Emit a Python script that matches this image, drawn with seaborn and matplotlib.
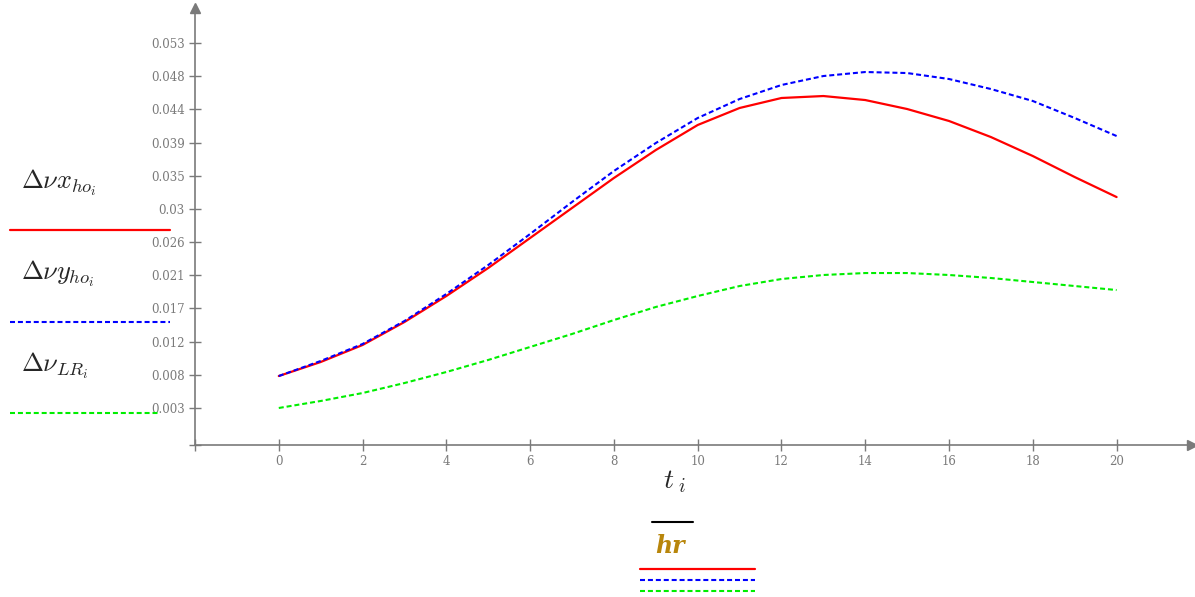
import matplotlib
matplotlib.use("Agg")
import matplotlib.pyplot as plt
import seaborn as sns
from matplotlib.lines import Line2D

# values (t in hr)
t = list(range(21))
dvx_ho = [0.00738, 0.00930, 0.01163, 0.01478, 0.01834, 0.02218, 0.02629, 0.03040,
          0.03451, 0.03834, 0.04177, 0.04410, 0.04547, 0.04574, 0.04519, 0.04396,
          0.04232, 0.04012, 0.03752, 0.03464, 0.03190]
dvy_ho = [0.00738, 0.00944, 0.01177, 0.01492, 0.01862, 0.02259, 0.02684, 0.03122,
          0.03547, 0.03930, 0.04273, 0.04533, 0.04725, 0.04848, 0.04903, 0.04889,
          0.04807, 0.04670, 0.04506, 0.04273, 0.04026]
dv_lr = [0.00300, 0.00396, 0.00505, 0.00642, 0.00793, 0.00958, 0.01136, 0.01314,
         0.01505, 0.01684, 0.01834, 0.01971, 0.02067, 0.02122, 0.02149, 0.02149,
         0.02122, 0.02081, 0.02026, 0.01971, 0.01916]

x_ticks = [0, 2, 4, 6, 8, 10, 12, 14, 16, 18, 20]
y_labels = ["0.003", "0.008", "0.012", "0.017", "0.021", "0.026", "0.03",
            "0.035", "0.039", "0.044", "0.048", "0.053"]
y_ticks = [0.003 + k * 0.05 / 11 for k in range(len(y_labels))]

sns.set_style("white")
plt.rcParams["mathtext.fontset"] = "cm"
plt.rcParams["font.family"] = ["DejaVu Serif"]

W, H = 1195, 597
fig = plt.figure(figsize=(W / 100, H / 100), dpi=100)
ax = fig.add_axes([195 / W, 1 - 445 / H, (1192 - 195) / W, (445 - 8) / H])

dash = (0, (2.4, 1.4))
sns.lineplot(x=t, y=dvx_ho, color="#ff0000", lw=1.6, ax=ax)
sns.lineplot(x=t, y=dvy_ho, color="#0000ff", lw=1.5, linestyle=dash, ax=ax)
sns.lineplot(x=t, y=dv_lr, color="#00ee00", lw=1.5, linestyle=dash, ax=ax)

ax.set_xlim(-2, 21.8)
ax.set_ylim(-0.00207, 0.0578)

gray = "#7a7a7a"
for s in ["top", "right"]:
    ax.spines[s].set_visible(False)
for s in ["left", "bottom"]:
    ax.spines[s].set_color(gray)
    ax.spines[s].set_linewidth(1.2)

ax.set_xticks([-2] + x_ticks)
ax.set_xticklabels([""] + [str(v) for v in x_ticks])
ax.set_yticks([-0.00207] + y_ticks)
ax.set_yticklabels([""] + y_labels)
ax.tick_params(axis="both", which="major", bottom=True, left=True, direction="inout",
               length=9, width=1, color=gray, labelcolor=gray, labelsize=8.5, pad=3)
ax.set_xlabel("")
ax.set_ylabel("")

# axis arrow heads
ax.plot([1], [0], marker=">", color=gray, ms=7, transform=ax.transAxes, clip_on=False)
ax.plot([0], [1], marker="^", color=gray, ms=7, transform=ax.transAxes, clip_on=False)


def fx(px):
    return px / W


def fy(py):
    return 1 - py / H


# left legend (Mathcad style y-axis labels)
fig.text(fx(21), fy(188), r"$\Delta\nu x_{ho_i}$", fontsize=19, va="baseline")
fig.text(fx(21), fy(279), r"$\Delta\nu y_{ho_i}$", fontsize=19, va="baseline")
fig.text(fx(21), fy(371), r"$\Delta\nu_{LR_i}$", fontsize=19, va="baseline")
fig.add_artist(Line2D([fx(10), fx(170)], [fy(230), fy(230)], color="#ff0000", lw=1.6))
fig.add_artist(Line2D([fx(10), fx(170)], [fy(322), fy(322)], color="#0000ff", lw=1.5,
                      linestyle=dash))
fig.add_artist(Line2D([fx(10), fx(158)], [fy(413), fy(413)], color="#00ee00", lw=1.5,
                      linestyle=dash))

# bottom x label
fig.text(fx(663), fy(488), r"$t_{\ i}$", fontsize=20, va="baseline")
fig.add_artist(Line2D([fx(652), fx(693)], [fy(522), fy(522)], color="black", lw=1.5))
fig.text(fx(655), fy(553), "hr", fontsize=17, fontweight="bold", fontstyle="italic",
         color="#b8860b", va="baseline")
fig.add_artist(Line2D([fx(640), fx(755)], [fy(569), fy(569)], color="#ff0000", lw=1.6))
fig.add_artist(Line2D([fx(640), fx(755)], [fy(580), fy(580)], color="#0000ff", lw=1.5,
                      linestyle=dash))
fig.add_artist(Line2D([fx(640), fx(755)], [fy(591), fy(591)], color="#00ee00", lw=1.5,
                      linestyle=dash))

fig.savefig("out.png", dpi=100)
